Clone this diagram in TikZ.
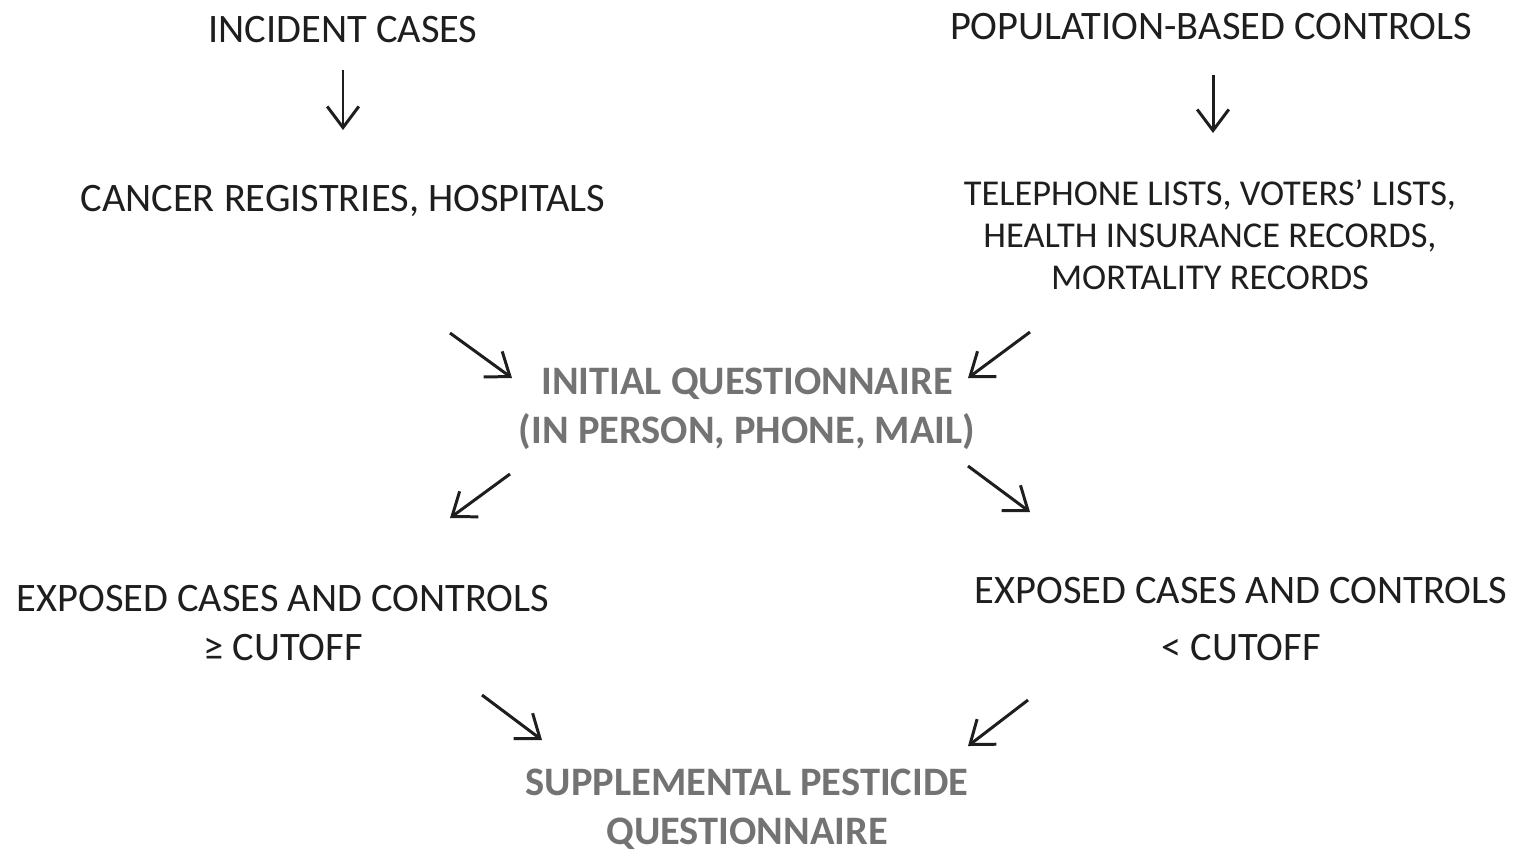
\documentclass[tikz,border=0pt]{standalone}
\usepackage{fontspec}
\setmainfont{Carlito}
\usepackage{tikz}
\usetikzlibrary{arrows.meta}
\definecolor{txtdark}{RGB}{30,30,30}
\definecolor{qgray}{RGB}{115,115,115}

\begin{document}
\begin{tikzpicture}[x=0.01cm, y=-0.01cm, every node/.style={font=\fontsize{11.5}{13.5}\selectfont, text=txtdark}]
  \tikzstyle{src}=[align=center, inner sep=0pt]
  \tikzstyle{quest}=[align=center, inner sep=0pt, text=qgray, font=\fontsize{11.5}{14}\selectfont\bfseries]
  \tikzstyle{arr}=[-{Straight Barb[length=6pt, width=9pt]}, line width=0.85pt, draw=txtdark]
  \useasboundingbox (0,0) rectangle (1518,850);

  \node[src] (ic) at (343,29) {INCIDENT CASES};
  \node[src] (pbc) at (1211,27) {POPULATION-BASED CONTROLS};
  \node[src] (crh) at (343,201) {CANCER REGISTRIES, HOSPITALS};
  \node[src, font=\fontsize{10.35}{11.95}\selectfont] (tel) at (1210,235) {TELEPHONE LISTS, VOTERS’ LISTS,\\HEALTH INSURANCE RECORDS,\\MORTALITY RECORDS};
  \node[quest] (iq) at (747,409) {INITIAL QUESTIONNAIRE\\(IN PERSON, PHONE, MAIL)};
  \node[src, font=\fontsize{11.5}{14}\selectfont] (hi) at (283,623) {EXPOSED CASES AND CONTROLS\\≥ CUTOFF};
  \node[src, font=\fontsize{11.5}{16}\selectfont] (lo) at (1241,619) {EXPOSED CASES AND CONTROLS\\< CUTOFF};
  \node[quest] (spq) at (747,809) {SUPPLEMENTAL PESTICIDE\\QUESTIONNAIRE};

  % arrow ends
  \coordinate (a1) at (343,70);   \coordinate (b1) at (343,130);
  \coordinate (a2) at (1213,75);  \coordinate (b2) at (1213,133);
  \coordinate (a3) at (450,333);  \coordinate (b3) at (512,378);
  \coordinate (a4) at (1030,332); \coordinate (b4) at (968,378);
  \coordinate (a5) at (510,474);  \coordinate (b5) at (450,518);
  \coordinate (a6) at (968,466);  \coordinate (b6) at (1030,512);
  \coordinate (a7) at (482,695);  \coordinate (b7) at (542,740);
  \coordinate (a8) at (1028,700); \coordinate (b8) at (968,746);

  \foreach \i in {1,...,8}
    \draw[arr] (a\i) -- (b\i);
\end{tikzpicture}
\end{document}
